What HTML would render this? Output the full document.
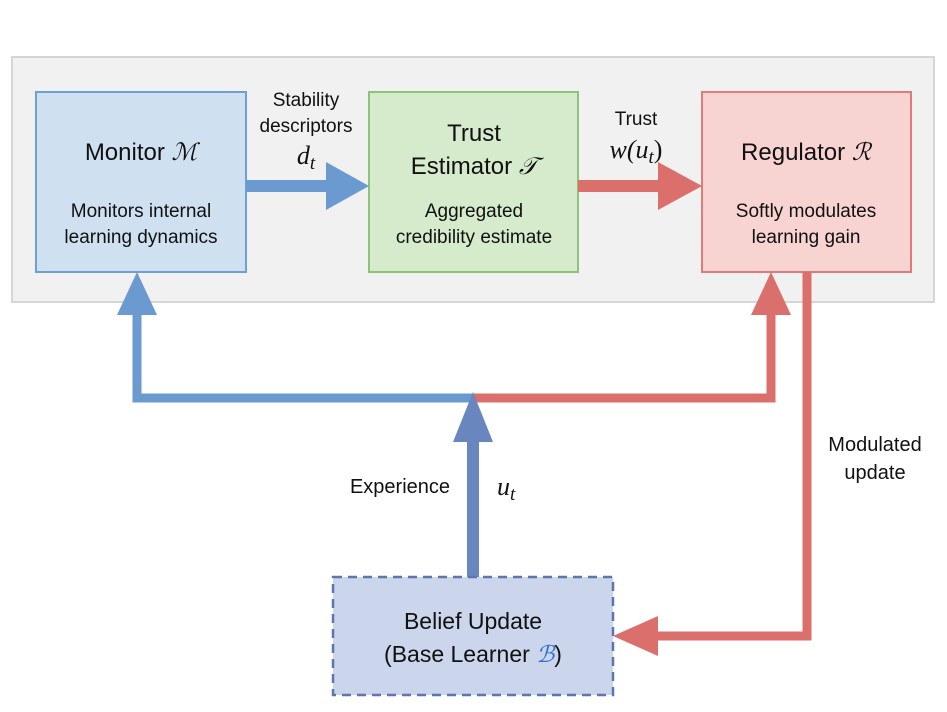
<!DOCTYPE html>
<html><head><style>
body{margin:0;background:#fff;}
svg text{font-family:"Liberation Sans",sans-serif;fill:#111;}
.m{font-family:"Liberation Serif",serif;font-style:italic;}
</style></head><body>
<svg width="947" height="707" viewBox="0 0 947 707" xmlns="http://www.w3.org/2000/svg">
<rect x="12" y="57" width="922" height="245" fill="#f1f1f1" stroke="#d6d6d6" stroke-width="2"/>
<rect x="36" y="92" width="210" height="180" fill="#cfe0f1" stroke="#6fa0d4" stroke-width="2"/>
<rect x="369" y="92" width="209" height="180" fill="#d6eacc" stroke="#8cc27a" stroke-width="2"/>
<rect x="702" y="92" width="209" height="180" fill="#f7d3d1" stroke="#e07b78" stroke-width="2"/>
<text x="141" y="160" font-size="24" text-anchor="middle">Monitor <tspan class="m">ℳ</tspan></text>
<text x="141" y="217" font-size="19" text-anchor="middle">Monitors internal</text>
<text x="141" y="243" font-size="19" text-anchor="middle">learning dynamics</text>
<text x="474" y="141" font-size="24" text-anchor="middle">Trust</text>
<text x="474" y="174" font-size="24" text-anchor="middle">Estimator <tspan class="m">𝒯</tspan></text>
<text x="474" y="217" font-size="19" text-anchor="middle">Aggregated</text>
<text x="474" y="243" font-size="19" text-anchor="middle">credibility estimate</text>
<text x="806" y="160" font-size="24" text-anchor="middle">Regulator <tspan class="m">ℛ</tspan></text>
<text x="806" y="217" font-size="19" text-anchor="middle">Softly modulates</text>
<text x="806" y="243" font-size="19" text-anchor="middle">learning gain</text>
<text x="306" y="106" font-size="19" text-anchor="middle">Stability</text>
<text x="306" y="132" font-size="19" text-anchor="middle">descriptors</text>
<text x="306" y="164" font-size="26" text-anchor="middle" class="m">d<tspan font-size="19" dy="5">t</tspan></text>
<text x="636" y="125" font-size="19" text-anchor="middle">Trust</text>
<text x="636" y="158" font-size="26" text-anchor="middle" class="m">w(u<tspan font-size="19" dy="5">t</tspan><tspan dy="-5" font-style="normal">)</tspan></text>
<rect x="246" y="180" width="85" height="12" fill="#6b9ad0"/>
<polygon points="326,162 369,186 326,210" fill="#6b9ad0"/>
<rect x="578" y="180" width="85" height="12" fill="#db6f6b"/>
<polygon points="658,162 702,186 658,210" fill="#db6f6b"/>
<path d="M137 310 V398 H473" fill="none" stroke="#6b9ad0" stroke-width="9"/>
<path d="M473 398 H771 V310" fill="none" stroke="#db6f6b" stroke-width="9"/>
<polygon points="117,315 137,272 157,315" fill="#6b9ad0"/>
<polygon points="751,315 771,272 791,315" fill="#db6f6b"/>
<rect x="467" y="430" width="12" height="148" fill="#6a86bf"/>
<polygon points="453,442 473,392 493,442" fill="#6a86bf"/>
<path d="M807 272 V636 H655" fill="none" stroke="#db6f6b" stroke-width="9"/>
<polygon points="658,616 613,636 658,656" fill="#db6f6b"/>
<rect x="333" y="577" width="280" height="118" fill="#cbd5ec" stroke="#5d77ad" stroke-width="2.5" stroke-dasharray="9,6"/>
<text x="473" y="629" font-size="23" text-anchor="middle">Belief Update</text>
<text x="473" y="662" font-size="23" text-anchor="middle">(Base Learner <tspan class="m" fill="#2d6fd1">ℬ</tspan>)</text>
<text x="400" y="493" font-size="20" text-anchor="middle">Experience</text>
<text x="497" y="495" font-size="26" class="m">u<tspan font-size="19" dy="5">t</tspan></text>
<text x="875" y="451" font-size="20" text-anchor="middle">Modulated</text>
<text x="875" y="479" font-size="20" text-anchor="middle">update</text>
</svg>
</body></html>
